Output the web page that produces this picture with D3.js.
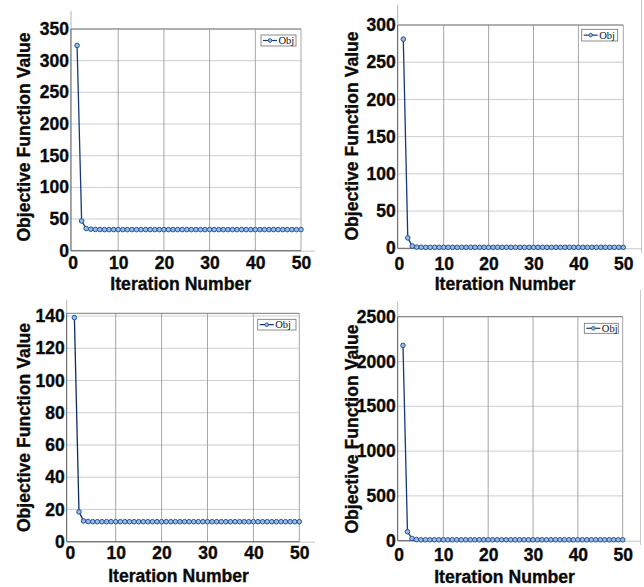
<!DOCTYPE html>
<html>
<head>
<meta charset="utf-8">
<script src="https://cdn.jsdelivr.net/npm/d3@7/dist/d3.min.js"></script>
<style>
  body { margin: 0; background: #ffffff; }
  .tick-label { font-family: "Liberation Sans", Arial, sans-serif; font-weight: bold; font-size: 17.5px; fill: #0a0a0a; stroke: #0a0a0a; stroke-width: 0.35px; }
  .axis-title { font-family: "Liberation Sans", Arial, sans-serif; font-weight: bold; font-size: 17.6px; fill: #0a0a0a; stroke: #0a0a0a; stroke-width: 0.35px; }
  .legend-text { font-family: "Liberation Serif", "Times New Roman", serif; font-size: 10.5px; fill: #111; }
</style>
</head>
<body>
<svg id="fig" width="644" height="587"></svg>
<script>
// Iteration index shared by all four runs
const iterations = d3.range(1, 51);

// Objective function value per iteration, one array per run
const objRun1 = [324, 47, 35, 34, 33.6, 33.4, 33.3, 33.3, 33.3, 33.3,
                 33.3, 33.3, 33.3, 33.3, 33.3, 33.3, 33.3, 33.3, 33.3, 33.3,
                 33.3, 33.3, 33.3, 33.3, 33.3, 33.3, 33.3, 33.3, 33.3, 33.3,
                 33.3, 33.3, 33.3, 33.3, 33.3, 33.3, 33.3, 33.3, 33.3, 33.3,
                 33.3, 33.3, 33.3, 33.3, 33.3, 33.3, 33.3, 33.3, 33.3, 33.3];
const objRun2 = [281, 14, 3, 1.6, 1.4, 1.3, 1.3, 1.3, 1.3, 1.3,
                 1.3, 1.3, 1.3, 1.3, 1.3, 1.3, 1.3, 1.3, 1.3, 1.3,
                 1.3, 1.3, 1.3, 1.3, 1.3, 1.3, 1.3, 1.3, 1.3, 1.3,
                 1.3, 1.3, 1.3, 1.3, 1.3, 1.3, 1.3, 1.3, 1.3, 1.3,
                 1.3, 1.3, 1.3, 1.3, 1.3, 1.3, 1.3, 1.3, 1.3, 1.3];
const objRun3 = [139, 18.5, 12.9, 12.5, 12.4, 12.4, 12.4, 12.4, 12.4, 12.4,
                 12.4, 12.4, 12.4, 12.4, 12.4, 12.4, 12.4, 12.4, 12.4, 12.4,
                 12.4, 12.4, 12.4, 12.4, 12.4, 12.4, 12.4, 12.4, 12.4, 12.4,
                 12.4, 12.4, 12.4, 12.4, 12.4, 12.4, 12.4, 12.4, 12.4, 12.4,
                 12.4, 12.4, 12.4, 12.4, 12.4, 12.4, 12.4, 12.4, 12.4, 12.4];
const objRun4 = [2180, 100, 25, 12, 10, 10, 10, 10, 10, 10,
                 10, 10, 10, 10, 10, 10, 10, 10, 10, 10,
                 10, 10, 10, 10, 10, 10, 10, 10, 10, 10,
                 10, 10, 10, 10, 10, 10, 10, 10, 10, 10,
                 10, 10, 10, 10, 10, 10, 10, 10, 10, 10];

// Tick values
const xTicks = [0, 10, 20, 30, 40, 50];
const yTicks1 = [0, 50, 100, 150, 200, 250, 300, 350];
const yTicks2 = [0, 50, 100, 150, 200, 250, 300];
const yTicks3 = [0, 20, 40, 60, 80, 100, 120, 140];
const yTicks4 = [0, 500, 1000, 1500, 2000, 2500];

// Texts
const xTitle = "Iteration Number";
const yTitle = "Objective Function Value";
const seriesName = "Obj";

// Panel geometry (pixels)
const panels = [
  { values: objRun1, yTicks: yTicks1, yDomainTop: 350,
    frameL: 71, x0: 72.5, x1: 301, y0: 250.7, yTop: 29, frameTop: 29, xPad: 5.5,
    legend: [261, 35, 35, 11], xTitleY: 290, yTitleX: 29.5, yTitleY: 137,
    lineColor: "#17397c", outer: { vTop: 11, hRight: 315, rightLine: null } },
  { values: objRun2, yTicks: yTicks2, yDomainTop: 300,
    frameL: 397.7, x0: 398.8, x1: 623.3, y0: 248.3, yTop: 25, frameTop: 25, xPad: 9,
    legend: [581.7, 29.3, 36, 11.7], xTitleY: 290, yTitleX: 358, yTitleY: 136,
    lineColor: "#17397c", outer: { vTop: 5, hRight: 642, rightLine: [641.5, 0, 253] } },
  { values: objRun3, yTicks: yTicks3, yDomainTop: 140,
    frameL: 66.7, x0: 69.8, x1: 299.3, y0: 541.7, yTop: 316, frameTop: 313.3, xPad: 5,
    legend: [257.7, 319.3, 38.3, 10.7], xTitleY: 581.5, yTitleX: 29.5, yTitleY: 427.5,
    lineColor: "#0d2c62", outer: { vTop: 300, hRight: 315, rightLine: null } },
  { values: objRun4, yTicks: yTicks4, yDomainTop: 2500,
    frameL: 397.7, x0: 398.5, x1: 622.7, y0: 540.7, yTop: 316.7, frameTop: 316.7, xPad: 7.5,
    legend: [584.3, 323.3, 34, 10], xTitleY: 583, yTitleX: 358, yTitleY: 429,
    lineColor: "#17397c", outer: { vTop: 302, hRight: 640, rightLine: [640.5, 290, 545] } }
];

const svg = d3.select("#fig");
svg.append("rect").attr("width", 644).attr("height", 587).attr("fill", "#ffffff");
const plainInt = d3.format("d");

panels.forEach(p => {
  const x = d3.scaleLinear().domain([0, 50]).range([p.x0, p.x1]);
  const y = d3.scaleLinear().domain([0, p.yDomainTop]).range([p.y0, p.yTop]);
  const frameTopPx = p.frameTop;
  const g = svg.append("g");

  // faint outer guide lines around the figure tile
  g.append("line").attr("x1", p.frameL).attr("x2", p.frameL)
    .attr("y1", p.outer.vTop).attr("y2", p.y0)
    .attr("stroke", "#b4b4b4").attr("stroke-width", 1);
  g.append("line").attr("x1", p.frameL).attr("x2", p.outer.hRight)
    .attr("y1", p.y0 + 0.5).attr("y2", p.y0 + 0.5)
    .attr("stroke", "#c4c4c4").attr("stroke-width", 1);
  if (p.outer.rightLine) {
    const r = p.outer.rightLine;
    g.append("line").attr("x1", r[0]).attr("x2", r[0]).attr("y1", r[1]).attr("y2", r[2])
      .attr("stroke", "#c8c8c8").attr("stroke-width", 1);
  }

  // plot background
  g.append("rect").attr("x", p.frameL).attr("y", frameTopPx)
    .attr("width", x(50) - p.frameL).attr("height", p.y0 - frameTopPx)
    .attr("fill", "#ffffff");

  // horizontal grid
  g.selectAll(".hgrid").data(p.yTicks.filter(v => v > 0)).enter().append("line")
    .attr("x1", p.frameL).attr("x2", x(50))
    .attr("y1", d => y(d)).attr("y2", d => y(d))
    .attr("stroke", "#cdcdcd").attr("stroke-width", 1);
  // vertical grid
  g.selectAll(".vgrid").data(xTicks.filter(v => v > 0)).enter().append("line")
    .attr("x1", d => x(d)).attr("x2", d => x(d))
    .attr("y1", frameTopPx).attr("y2", p.y0)
    .attr("stroke", "#a6a6a6").attr("stroke-width", 1);

  // frame
  g.append("line").attr("x1", p.frameL).attr("x2", p.frameL)
    .attr("y1", frameTopPx).attr("y2", p.y0).attr("stroke", "#5a5a5a").attr("stroke-width", 1);
  g.append("line").attr("x1", p.frameL).attr("x2", x(50))
    .attr("y1", p.y0).attr("y2", p.y0).attr("stroke", "#5a5a5a").attr("stroke-width", 1);
  g.append("line").attr("x1", p.frameL).attr("x2", x(50))
    .attr("y1", frameTopPx).attr("y2", frameTopPx).attr("stroke", "#7a7a7a").attr("stroke-width", 1);

  // axes (labels only)
  const ax = g.append("g").attr("transform", `translate(0,${p.y0})`)
    .call(d3.axisBottom(x).tickValues(xTicks).tickFormat(plainInt).tickSize(0).tickPadding(p.xPad));
  ax.select(".domain").remove();
  ax.selectAll("text").attr("class", "tick-label");

  const ay = g.append("g").attr("transform", `translate(${p.frameL},0)`)
    .call(d3.axisLeft(y).tickValues(p.yTicks).tickFormat(plainInt).tickSize(0).tickPadding(2));
  ay.select(".domain").remove();
  ay.selectAll("text").attr("class", "tick-label");

  // axis titles
  g.append("text").attr("class", "axis-title")
    .attr("x", (x(0) + x(50)) / 2 - 6).attr("y", p.xTitleY)
    .attr("text-anchor", "middle").text(xTitle);
  g.append("text").attr("class", "axis-title")
    .attr("transform", `translate(${p.yTitleX},${p.yTitleY}) rotate(-90)`)
    .attr("text-anchor", "middle").text(yTitle);

  // series line + markers
  const pts = iterations.map((it, i) => [it, p.values[i]]);
  g.append("path").datum(pts)
    .attr("fill", "none").attr("stroke", p.lineColor).attr("stroke-width", 1.3)
    .attr("d", d3.line().x(d => x(d[0])).y(d => y(d[1])));
  g.selectAll(".pt").data(pts).enter().append("circle")
    .attr("cx", d => x(d[0])).attr("cy", d => y(d[1])).attr("r", 2.3)
    .attr("fill", "#9dbbe0").attr("stroke", "#1f539b").attr("stroke-width", 1);

  // legend
  const [lx, ly, lw, lh] = p.legend;
  const lg = g.append("g");
  lg.append("rect").attr("x", lx).attr("y", ly).attr("width", lw).attr("height", lh)
    .attr("fill", "#ffffff").attr("stroke", "#6e6e6e").attr("stroke-width", 0.8);
  const cy = ly + lh / 2;
  lg.append("line").attr("x1", lx + 2).attr("x2", lx + 16).attr("y1", cy).attr("y2", cy)
    .attr("stroke", p.lineColor).attr("stroke-width", 1.2);
  lg.append("circle").attr("cx", lx + 9).attr("cy", cy).attr("r", 1.8)
    .attr("fill", "#9dbbe0").attr("stroke", "#1f539b").attr("stroke-width", 0.9);
  lg.append("text").attr("class", "legend-text").attr("x", lx + 17.5).attr("y", cy + 3.6)
    .text(seriesName);
});
</script>
</body>
</html>
